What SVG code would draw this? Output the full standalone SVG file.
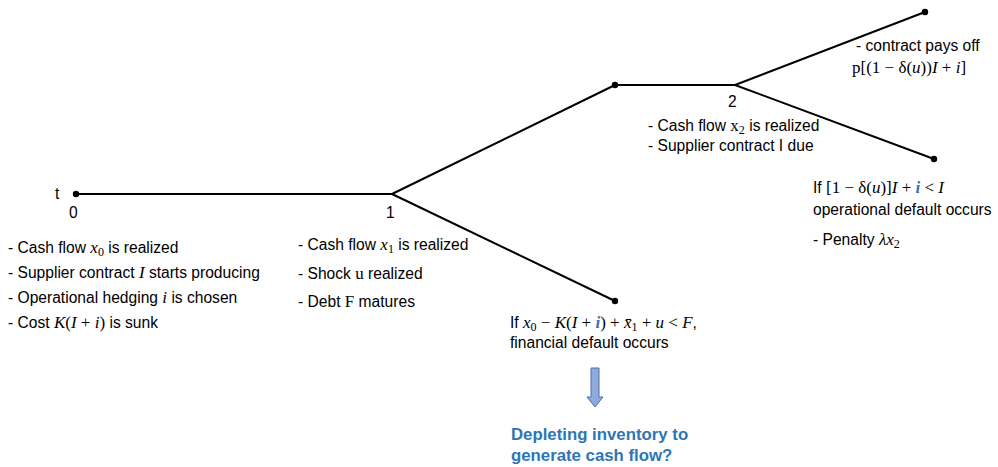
<svg xmlns="http://www.w3.org/2000/svg" width="998" height="467" viewBox="0 0 998 467">
  <style>
    .t { font-family: "Liberation Sans", Arial, sans-serif; font-size: 15.6px; fill: #000; }
    .m { font-family: "Liberation Serif", "Times New Roman", serif; font-style: italic; font-size: 17px; }
    .r { font-family: "Liberation Serif", "Times New Roman", serif; font-style: normal; font-size: 17px; }
    .sub { font-family: "Liberation Serif", "Times New Roman", serif; font-style: normal; font-size: 12px; }
    .edge { stroke: #000; stroke-width: 2; fill: none; }
    .dot { fill: #000; }
    .hi { fill: #2E75B6; font-weight: bold; }
    .q { font-family: "Liberation Sans", Arial, sans-serif; font-size: 16.8px; font-weight: bold; fill: #2E75B6; }
  </style>

  <!-- connectors of the timeline tree -->
  <g id="connectors">
    <line class="edge" x1="76" y1="194" x2="392" y2="194"/>
    <line class="edge" x1="392" y1="194" x2="615" y2="85"/>
    <line class="edge" x1="392" y1="194" x2="615" y2="301"/>
    <line class="edge" x1="615" y1="85" x2="735" y2="85"/>
    <line class="edge" x1="735" y1="85" x2="925" y2="12"/>
    <line class="edge" x1="735" y1="85" x2="934" y2="159"/>
  </g>

  <!-- t = 0 -->
  <g id="node-t0">
    <circle class="dot" cx="76" cy="194" r="3.2"/>
    <text class="t" x="55" y="199" font-size="17">t</text>
    <text class="t" x="69" y="218" font-size="17">0</text>
    <text class="t" x="8" y="253">- Cash flow <tspan class="m">x</tspan><tspan class="sub" dy="3">0</tspan><tspan dy="-3"> is realized</tspan></text>
    <text class="t" x="8" y="278">- Supplier contract <tspan class="m">I</tspan> starts producing</text>
    <text class="t" x="8" y="303">- Operational hedging <tspan class="m">i</tspan> is chosen</text>
    <text class="t" x="8" y="328">- Cost <tspan class="m">K</tspan><tspan class="r">(</tspan><tspan class="m">I</tspan><tspan class="r"> + </tspan><tspan class="m">i</tspan><tspan class="r">)</tspan> is sunk</text>
  </g>

  <!-- t = 1 -->
  <g id="node-t1">
    <text class="t" x="386" y="218" font-size="17">1</text>
    <text class="t" x="298" y="250">- Cash flow <tspan class="m">x</tspan><tspan class="sub" dy="3">1</tspan><tspan dy="-3"> is realized</tspan></text>
    <text class="t" x="298" y="279">- Shock <tspan class="r">u</tspan> realized</text>
    <text class="t" x="298" y="307">- Debt <tspan class="r">F</tspan> matures</text>
  </g>

  <!-- upper branch after t = 1 -->
  <g id="node-up1">
    <circle class="dot" cx="615" cy="85" r="3.2"/>
  </g>

  <!-- financial default branch -->
  <g id="node-fin-default">
    <circle class="dot" cx="615" cy="301" r="3.2"/>
    <text class="t" x="510" y="328">If <tspan class="m">x</tspan><tspan class="sub" dy="3">0</tspan><tspan class="r" dy="-3"> − </tspan><tspan class="m">K</tspan><tspan class="r">(</tspan><tspan class="m">I</tspan><tspan class="r"> + </tspan><tspan class="m hi">i</tspan><tspan class="r">) + </tspan><tspan class="m">x̄</tspan><tspan class="sub" dy="3">1</tspan><tspan class="r" dy="-3"> + </tspan><tspan class="m">u</tspan><tspan class="r"> &lt; </tspan><tspan class="m">F</tspan>,</text>
    <text class="t" x="510" y="348">financial default occurs</text>
  </g>

  <!-- t = 2 -->
  <g id="node-t2">
    <text class="t" x="728" y="107" font-size="17">2</text>
    <text class="t" x="648" y="131">- Cash flow <tspan class="r">x</tspan><tspan class="sub" dy="3">2</tspan><tspan dy="-3"> is realized</tspan></text>
    <text class="t" x="648" y="151">- Supplier contract I due</text>
  </g>

  <!-- contract pays off -->
  <g id="node-payoff">
    <circle class="dot" cx="925" cy="12" r="3.2"/>
    <text class="t" x="856" y="51">- contract pays off</text>
    <text class="r" x="852" y="73" font-size="18">p[(1 − δ(<tspan class="m" font-size="18">u</tspan>))<tspan class="m" font-size="18">I</tspan> + <tspan class="m" font-size="18">i</tspan>]</text>
  </g>

  <!-- operational default -->
  <g id="node-op-default">
    <circle class="dot" cx="934" cy="159" r="3.2"/>
    <text class="t" x="813" y="193">If <tspan class="r">[1 − δ(</tspan><tspan class="m">u</tspan><tspan class="r">)]</tspan><tspan class="m">I</tspan><tspan class="r"> + </tspan><tspan class="m hi">i</tspan><tspan class="r"> &lt; </tspan><tspan class="m">I</tspan></text>
    <text class="t" x="813" y="215">operational default occurs</text>
    <text class="t" x="813" y="245">- Penalty  <tspan class="m">λx</tspan><tspan class="sub" dy="3">2</tspan></text>
  </g>

  <!-- question below the financial default -->
  <g id="node-question">
    <path d="M591,368 H599 V397 H603 L595,407 L587,397 H591 Z" fill="#8FAADC" stroke="#4A6EA8" stroke-width="1"/>
    <text class="q" x="511" y="440">Depleting inventory to</text>
    <text class="q" x="511" y="461">generate cash flow?</text>
  </g>
</svg>
